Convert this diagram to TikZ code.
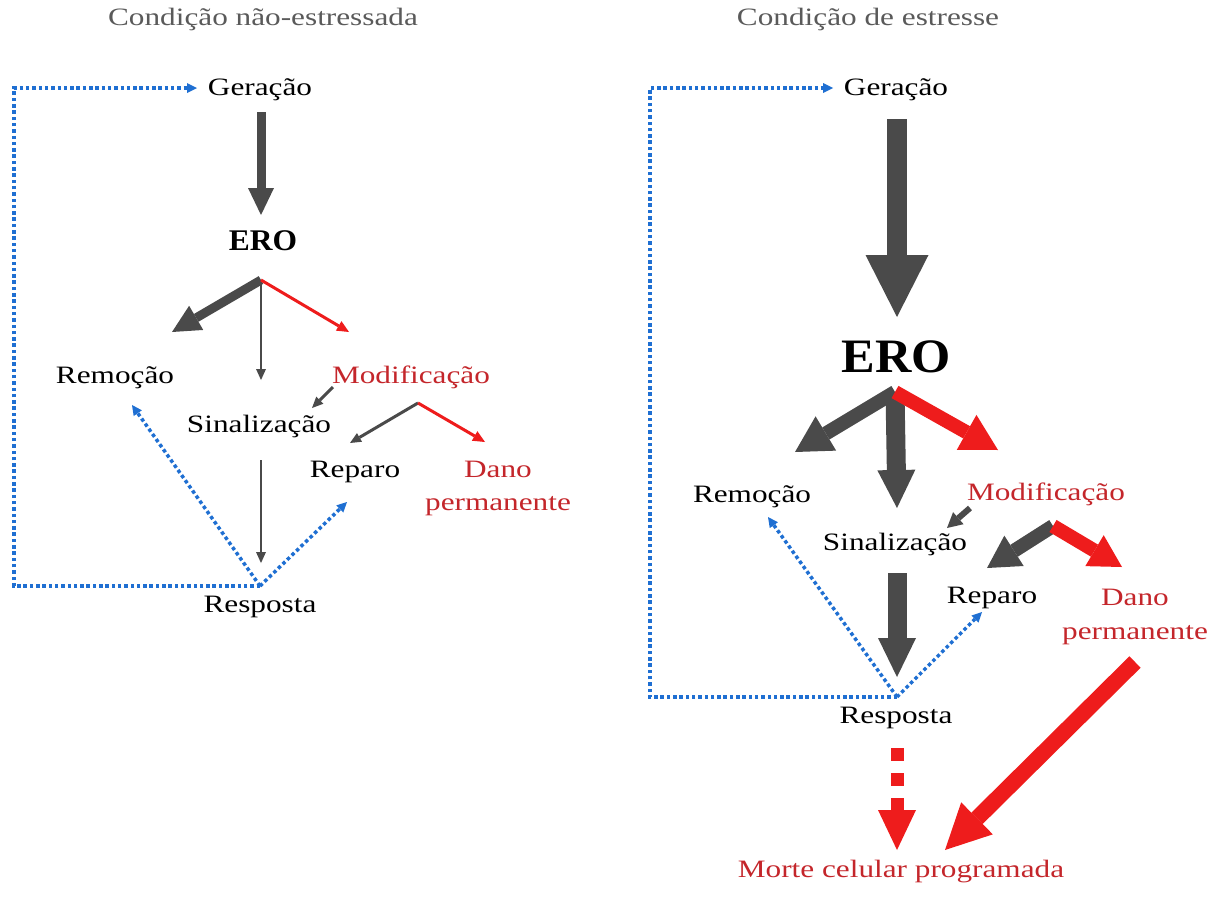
\documentclass[tikz,border=0pt]{standalone}
\usepackage{fontspec}
\setmainfont{Liberation Serif}[FakeStretch=1.25]
\newfontfamily\erofont{Liberation Serif}[FakeStretch=1.05]
\usetikzlibrary{arrows.meta}
\definecolor{arrgray}{HTML}{4A4A4A}
\definecolor{arrred}{HTML}{EE1C1C}
\definecolor{txtred}{HTML}{C4262B}
\definecolor{dotblue}{HTML}{1F6FD2}
\definecolor{ttlgray}{HTML}{5A5A5A}

\begin{document}
\begin{tikzpicture}[x = 1pt, y = -1pt,
	lbl/.style = {anchor = base, inner sep = 0pt, font = \fontsize{25}{30}\selectfont},
	redlbl/.style = {lbl, text = txtred},
	ttl/.style = {lbl, text = ttlgray},
	ero/.style = {anchor = base, inner sep = 0pt, font = \erofont\bfseries\fontsize{#1}{#1}\selectfont},
	arr/.style n args = {3}{line width = #1, -{Triangle[length = #2, width = #3, line width = 0pt]}},
	fb/.style = {dotblue, line width = 3.5pt, dash pattern = on 3.5pt off 2.8pt,
		-{Triangle[length = 10pt, width = 10pt, line width = 0pt]}}]
		\useasboundingbox (0, 0) rectangle (1226, 897);
		%%%%%%%%%%%%% left: unstressed
		\node [ttl] (lttl) at (263, 25) {Condição não-estressada};
		\node [lbl] (lger) at (260, 95) {Geração};
		\node [ero = 30] (lero) at (263, 250) {ERO};
		\node [lbl] (lrem) at (115, 383) {Remoção};
		\node [redlbl] (lmod) at (411, 383) {Modificação};
		\node [lbl] (lsin) at (259, 432) {Sinalização};
		\node [lbl] (lrep) at (355, 477) {Reparo};
		\node [redlbl] (ldano) at (498, 477) {Dano};
		\node [redlbl] (lperm) at (498, 510) {permanente};
		\node [lbl] (lres) at (260, 612) {Resposta};
		%%%%%%%%%%%%%
		\coordinate (lgout) at (261, 112); \coordinate (leroin) at (261, 215);
		\coordinate (lerob) at (261, 280);
		\coordinate (lremin) at (172, 332); \coordinate (lsinin) at (261, 380);
		\coordinate (lmodin) at (349, 332);
		\coordinate (lmodout) at (333, 387); \coordinate (lmodsin) at (312, 408);
		\coordinate (lmodb) at (418, 403);
		\coordinate (lrepin) at (350, 443); \coordinate (ldanoin) at (485, 442);
		\coordinate (lsinout) at (261, 460); \coordinate (lresin) at (261, 563);
		\coordinate (lv) at (260, 586); \coordinate (lloop) at (14, 586);
		\coordinate (lgin) at (197, 88);
		\coordinate (lremfb) at (132, 405); \coordinate (lrepfb) at (347, 502);
		%%%%%%%%%%%%%
		\draw [arrgray, arr = {9pt}{27pt}{26pt}] (lgout) to (leroin);
		\draw [arrgray, arr = {9pt}{28pt}{28pt}] (lerob) to (lremin);
		\draw [arrgray, arr = {2.5pt}{11pt}{10pt}] (lerob) to (lsinin);
		\draw [arrred, arr = {3pt}{12pt}{11pt}] (lerob) to (lmodin);
		\draw [arrgray, arr = {3pt}{11pt}{10pt}] (lmodout) to (lmodsin);
		\draw [arrgray, arr = {3pt}{11pt}{10pt}] (lmodb) to (lrepin);
		\draw [arrred, arr = {3pt}{12pt}{11pt}] (lmodb) to (ldanoin);
		\draw [arrgray, arr = {2.5pt}{11pt}{10pt}] (lsinout) to (lresin);
		\draw [fb] (lv) -- (lloop) |- (lgin);
		\draw [fb] (lv) -- (lremfb);
		\draw [fb] (lv) -- (lrepfb);
		%%%%%%%%%%%%% right: stress
		\node [ttl] (rttl) at (868, 25) {Condição de estresse};
		\node [lbl] (rger) at (896, 95) {Geração};
		\node [ero = 48] (rero) at (896, 372) {ERO};
		\node [lbl] (rrem) at (752, 502) {Remoção};
		\node [redlbl] (rmod) at (1046, 500) {Modificação};
		\node [lbl] (rsin) at (895, 550) {Sinalização};
		\node [lbl] (rrep) at (992, 603) {Reparo};
		\node [redlbl] (rdano) at (1135, 605) {Dano};
		\node [redlbl] (rperm) at (1135, 639) {permanente};
		\node [lbl] (rres) at (896, 723) {Resposta};
		\node [redlbl] (rmorte) at (901, 877) {Morte celular programada};
		%%%%%%%%%%%%%
		\coordinate (rgout) at (897, 119); \coordinate (reroin) at (897, 317);
		\coordinate (rerob) at (895, 392);
		\coordinate (rremin) at (795, 452); \coordinate (rsinin) at (897, 508);
		\coordinate (rmodin) at (998, 450);
		\coordinate (rmodout) at (970, 508); \coordinate (rmodsin) at (947, 528);
		\coordinate (rmodb) at (1053, 526);
		\coordinate (rrepin) at (987, 568); \coordinate (rdanoin) at (1122, 567);
		\coordinate (rsinout) at (897, 573); \coordinate (rresin) at (897, 677);
		\coordinate (rv) at (897, 697); \coordinate (rloop) at (650, 697);
		\coordinate (rgin) at (833, 88);
		\coordinate (rremfb) at (768, 517); \coordinate (rrepfb) at (982, 612);
		\coordinate (rresout) at (897, 748); \coordinate (rmortein) at (897, 850);
		\coordinate (rpermout) at (1135, 662); \coordinate (rmortein2) at (945, 850);
		%%%%%%%%%%%%%
		\draw [arrgray, arr = {20pt}{62pt}{63pt}] (rgout) to (reroin);
		\draw [arrgray, arr = {14pt}{36pt}{40pt}] (rerob) to (rremin);
		\draw [arrgray, arr = {19pt}{38pt}{38pt}] (rerob) to (rsinin);
		\draw [arrred, arr = {14pt}{36pt}{40pt}] (rerob) to (rmodin);
		\draw [arrgray, arr = {6pt}{15pt}{16pt}] (rmodout) to (rmodsin);
		\draw [arrgray, arr = {14pt}{32pt}{36pt}] (rmodb) to (rrepin);
		\draw [arrred, arr = {14pt}{32pt}{36pt}] (rmodb) to (rdanoin);
		\draw [arrgray, arr = {19pt}{39pt}{38pt}] (rsinout) to (rresin);
		\draw [fb] (rv) -- (rloop) |- (rgin);
		\draw [fb] (rv) -- (rremfb);
		\draw [fb] (rv) -- (rrepfb);
		\draw [arrred, arr = {13pt}{40pt}{38pt}, dash pattern = on 13pt off 12pt] (rresout) to (rmortein);
		\draw [arrred, arr = {16pt}{45pt}{45pt}] (rpermout) to (rmortein2);
\end{tikzpicture}
\end{document}
